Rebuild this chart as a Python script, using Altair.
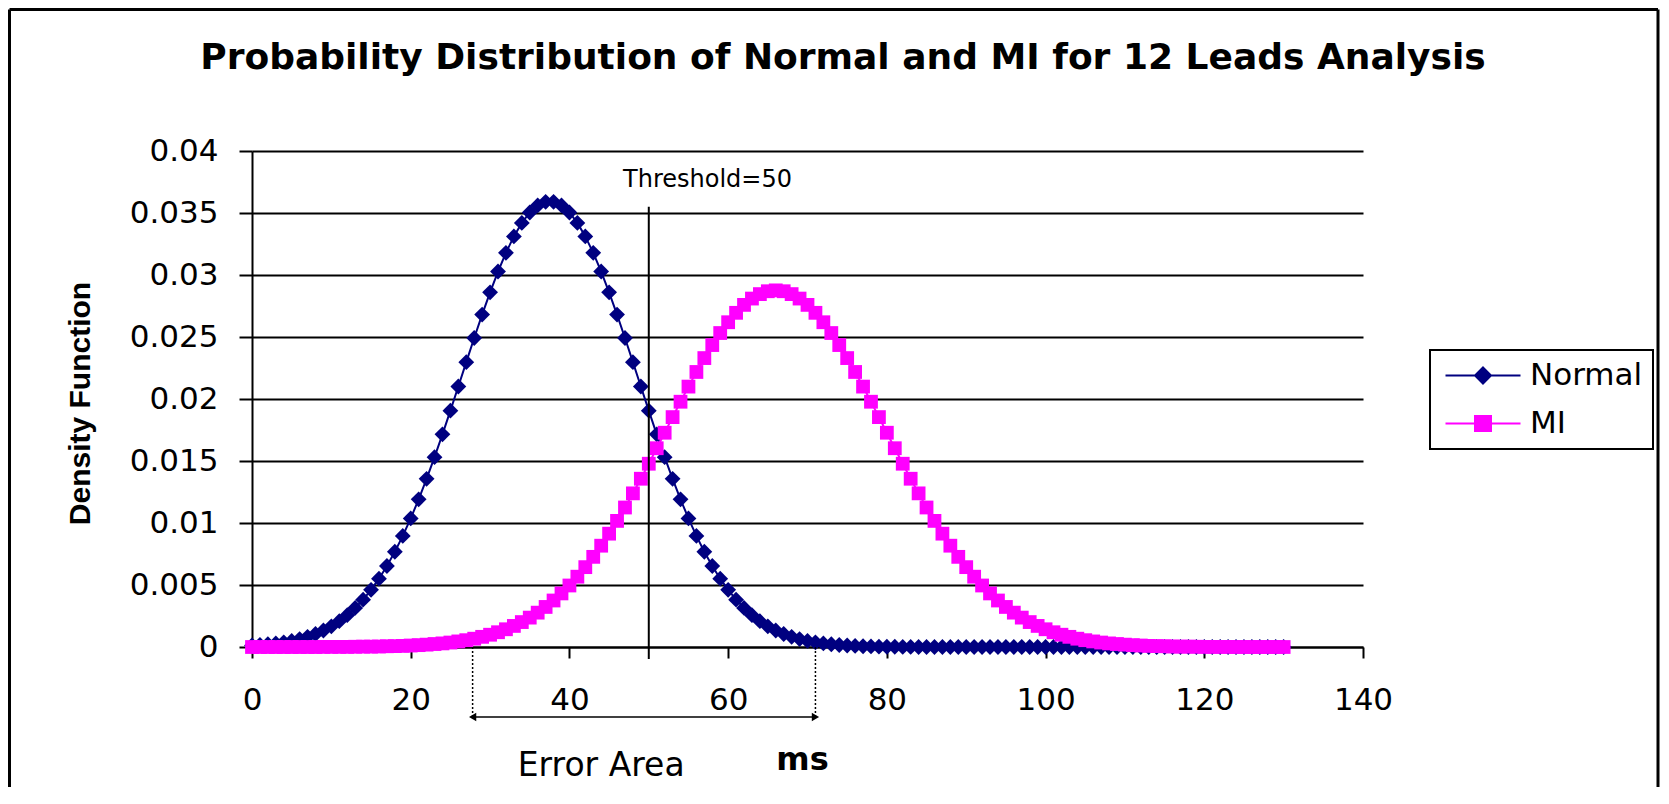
import altair as alt
import pandas as pd

# ---------------- data ----------------
TITLE = "Probability Distribution of Normal and MI for 12 Leads Analysis"
ms = list(range(0, 131))
normal = [
    0.00012, 0.00016, 0.00022, 0.00029, 0.00038, 0.00049, 0.00064, 0.00082, 0.00105, 0.00133,
    0.00167, 0.00208, 0.00257, 0.00315, 0.00382, 0.00461, 0.00551, 0.00653, 0.00768, 0.00896,
    0.01037, 0.01191, 0.01356, 0.01531, 0.01715, 0.01906, 0.02101, 0.02297, 0.02492, 0.02681,
    0.02860, 0.03028, 0.03179, 0.03311, 0.03420, 0.03504, 0.03561, 0.03590,
    0.03590, 0.03561, 0.03504, 0.03420, 0.03311, 0.03179, 0.03028, 0.02860, 0.02681, 0.02492,
    0.02297, 0.02101, 0.01906, 0.01715, 0.01531, 0.01356, 0.01191, 0.01037, 0.00896, 0.00768,
    0.00653, 0.00551, 0.00461, 0.00382, 0.00315, 0.00257, 0.00208, 0.00167, 0.00133, 0.00105,
    0.00082, 0.00064, 0.00049, 0.00038, 0.00029, 0.00022, 0.00016, 0.00012, 0.00009, 0.00006,
    0.00005, 0.00003, 0.00002, 0.00002, 0.00001, 0.00001, 0.0, 0.0, 0.0, 0.0,
    0.0, 0.0, 0.0, 0.0, 0.0, 0.0, 0.0, 0.0, 0.0, 0.0,
    0.0, 0.0, 0.0, 0.0, 0.0, 0.0, 0.0, 0.0, 0.0, 0.0,
    0.0, 0.0, 0.0, 0.0, 0.0, 0.0, 0.0, 0.0, 0.0, 0.0,
    0.0, 0.0, 0.0, 0.0, 0.0, 0.0, 0.0, 0.0, 0.0, 0.0,
    0.0, 0.0, 0.0,
]
mi = [
    0.0, 0.0, 0.0, 0.0, 0.0, 0.0, 0.0, 0.0, 0.0, 0.00001,
    0.00001, 0.00001, 0.00001, 0.00002, 0.00003, 0.00003, 0.00004, 0.00006, 0.00007, 0.00009,
    0.00012, 0.00015, 0.00019, 0.00024, 0.00029, 0.00036, 0.00045, 0.00055, 0.00067, 0.00082,
    0.00099, 0.00119, 0.00143, 0.00170, 0.00201, 0.00237, 0.00277, 0.00323, 0.00375, 0.00432,
    0.00496, 0.00567, 0.00644, 0.00727, 0.00817, 0.00914, 0.01017, 0.01125, 0.01239, 0.01357,
    0.01478, 0.01603, 0.01728, 0.01854, 0.01978, 0.02100, 0.02218, 0.02330, 0.02435, 0.02532,
    0.02619, 0.02695, 0.02759, 0.02810, 0.02846, 0.02869, 0.02876, 0.02869, 0.02846, 0.02810,
    0.02759, 0.02695, 0.02619, 0.02532, 0.02435, 0.02330, 0.02218, 0.02100, 0.01978, 0.01854,
    0.01728, 0.01603, 0.01478, 0.01357, 0.01239, 0.01125, 0.01017, 0.00914, 0.00817, 0.00727,
    0.00644, 0.00567, 0.00496, 0.00432, 0.00375, 0.00323, 0.00277, 0.00237, 0.00201, 0.00170,
    0.00143, 0.00119, 0.00099, 0.00082, 0.00067, 0.00055, 0.00045, 0.00036, 0.00029, 0.00024,
    0.00019, 0.00015, 0.00012, 0.00009, 0.00007, 0.00006, 0.00004, 0.00003, 0.00003, 0.00002,
    0.00001, 0.00001, 0.00001, 0.00001, 0.0, 0.0, 0.0, 0.0, 0.0, 0.0, 0.0,
]
x_ticks = [0, 20, 40, 60, 80, 100, 120, 140]
y_ticks = [0, 0.005, 0.01, 0.015, 0.02, 0.025, 0.03, 0.035, 0.04]
series_names = ["Normal", "MI"]
series_colors = ["#000080", "#FF00FF"]
threshold = 50
threshold_top = 0.0355
threshold_label_pos = [57.4, 0.0377]
error_area = [27.8, 71.0]
error_label_x = 44.0

# ---------------- layout ----------------
W, H = 1111, 496
PL, PT, PR, PB = 244, 143, 297, 140
NAVY, MAGENTA = series_colors

xscale = alt.Scale(domain=[0, 140], nice=False, zero=False)
yscale = alt.Scale(domain=[0, 0.04], nice=False)

x_axis = alt.Axis(
    values=x_ticks, title="ms", grid=False, tickSize=11, labelPadding=27,
    labelFontSize=31, labelFont="DejaVu Sans", labelFlush=False,
    titleFont="DejaVu Sans", titleFontSize=32, titleFontWeight="bold",
    titleX=550, titleY=112, titleBaseline="middle", titleAlign="center",
)
y_axis = alt.Axis(
    values=y_ticks, format="~g", title="Density Function", grid=True,
    gridColor="black", gridWidth=2, gridOpacity=1, tickSize=13, labelPadding=21,
    labelFontSize=31, labelFont="DejaVu Sans", labelFlush=False,
    titleFont="Liberation Sans", titleFontSize=30, titleFontWeight="bold",
    titleX=-172, titleY=252, titleAngle=270, titleBaseline="middle", titleAlign="center",
)

df_n = pd.DataFrame({"ms": ms, "value": normal})
df_m = pd.DataFrame({"ms": ms, "value": mi})

X = alt.X("ms:Q", scale=xscale, axis=x_axis)
Y = alt.Y("value:Q", scale=yscale, axis=y_axis)

line_n = alt.Chart(df_n).mark_line(color=NAVY, strokeWidth=2).encode(x=X, y=Y)
pts_n = alt.Chart(df_n).mark_point(shape="diamond", filled=True, size=250, color=NAVY, opacity=1).encode(
    x="ms:Q", y="value:Q")
line_m = alt.Chart(df_m).mark_line(color=MAGENTA, strokeWidth=2).encode(x="ms:Q", y="value:Q")
pts_m = alt.Chart(df_m).mark_point(shape="square", filled=True, size=190, color=MAGENTA, opacity=1).encode(
    x="ms:Q", y="value:Q")

# threshold line and label
thr_df = pd.DataFrame({"ms": [threshold], "value": [threshold_top]})
thr_rule = alt.Chart(thr_df).mark_rule(color="black", strokeWidth=2).encode(
    x="ms:Q", y="value:Q", y2=alt.value(H + 12))
thr_txt_df = pd.DataFrame({"ms": [threshold_label_pos[0]], "value": [threshold_label_pos[1]],
                           "label": [f"Threshold={threshold}"]})
thr_text = alt.Chart(thr_txt_df).mark_text(font="DejaVu Sans", fontSize=24, color="black",
                                          align="center", baseline="middle").encode(
    x="ms:Q", y="value:Q", text="label:N")

# error area arrow
ea_df = pd.DataFrame({"ms": [error_area[0]], "ms2": [error_area[1]]})
ea_rule = alt.Chart(ea_df).mark_rule(color="black", strokeWidth=1.5).encode(
    x="ms:Q", x2="ms2:Q", y=alt.value(566))
ea_ends = pd.DataFrame({"ms": error_area})
ea_dots = alt.Chart(ea_ends).mark_rule(color="black", strokeWidth=1.5, strokeDash=[2, 2]).encode(
    x="ms:Q", y=alt.value(H), y2=alt.value(566))
ea_left = alt.Chart(pd.DataFrame({"ms": [error_area[0]]})).mark_point(
    shape="triangle-left", filled=True, color="black", size=70, opacity=1).encode(
    x="ms:Q", y=alt.value(566))
ea_right = alt.Chart(pd.DataFrame({"ms": [error_area[1]]})).mark_point(
    shape="triangle-right", filled=True, color="black", size=70, opacity=1).encode(
    x="ms:Q", y=alt.value(566))
ea_txt_df = pd.DataFrame({"ms": [error_label_x], "label": ["Error Area"]})
ea_text = alt.Chart(ea_txt_df).mark_text(font="DejaVu Sans", fontSize=33, color="black",
                                        align="center", baseline="middle").encode(
    x="ms:Q", y=alt.value(615), text="label:N")

# chart title
title_df = pd.DataFrame({"t": [TITLE]})
title_text = alt.Chart(title_df).mark_text(font="DejaVu Sans", fontSize=36, fontWeight="bold",
                                          color="black", align="center", baseline="middle").encode(
    x=alt.value(591), y=alt.value(-93), text="t:N")

# outer frame
frame_df = pd.DataFrame({"k": [1]})
fl, fr, ft, fb = -242.5, 1406.0, -141.5, H + PB
frame_left = alt.Chart(frame_df).mark_rule(color="black", strokeWidth=3).encode(
    x=alt.value(fl), y=alt.value(ft), y2=alt.value(fb))
frame_right = alt.Chart(frame_df).mark_rule(color="black", strokeWidth=3).encode(
    x=alt.value(fr), y=alt.value(ft), y2=alt.value(fb))
frame_top = alt.Chart(frame_df).mark_rule(color="black", strokeWidth=3).encode(
    x=alt.value(fl), x2=alt.value(fr), y=alt.value(ft))

# legend (line + marker symbols); symbol unit = 10 px, line 75 px long
path_n = "M-1,0L6.5,0M2.75,-0.8L3.55,0L2.75,0.8L1.95,0Z"
path_m = "M-1,0L6.5,0M1.95,-0.75L3.55,-0.75L3.55,0.75L1.95,0.75Z"
leg = alt.Legend(title=None, orient="none", legendX=1178, legendY=199,
                 symbolSize=400, symbolStrokeWidth=2, labelFont="DejaVu Sans",
                 labelFontSize=31, labelColor="black", labelOffset=59, padding=10,
                 strokeColor="black", rowPadding=16)
leg_df = pd.DataFrame({"series": series_names})
legend_layer = alt.Chart(leg_df).transform_filter("false").mark_point(
    filled=True, size=400, opacity=1, strokeWidth=2).encode(
    shape=alt.Shape("series:N", scale=alt.Scale(domain=series_names, range=[path_n, path_m]), legend=leg),
    fill=alt.Fill("series:N", scale=alt.Scale(domain=series_names, range=series_colors), legend=leg),
    stroke=alt.Stroke("series:N", scale=alt.Scale(domain=series_names, range=series_colors), legend=leg),
)

chart = alt.layer(
    line_n, pts_n, line_m, pts_m, thr_rule, thr_text, ea_rule, ea_dots, ea_left, ea_right, ea_text,
    title_text, frame_left, frame_right, frame_top, legend_layer,
).properties(
    width=W, height=H,
    autosize=alt.AutoSizeParams(type="none"),
    padding={"left": PL, "top": PT, "right": PR, "bottom": PB},
    background="white",
).configure_view(stroke=None).configure_axis(
    domainColor="black", domainWidth=2, tickColor="black", tickWidth=2, labelColor="black",
    titleColor="black",
).configure_legend(strokeWidth=2)

chart.save("out.html", embed_options={"renderer": "svg", "actions": False})
